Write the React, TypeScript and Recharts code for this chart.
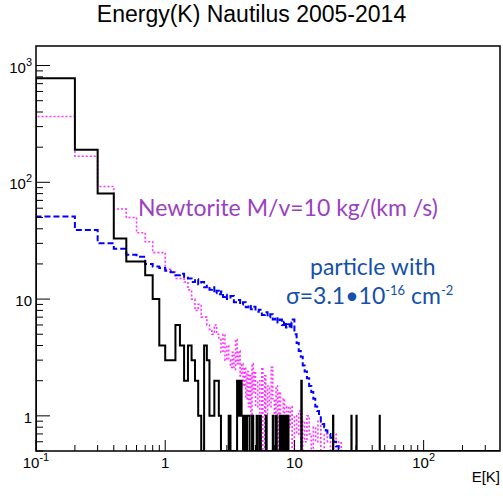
import React from "react";
import { LineChart, Line, XAxis, YAxis, ReferenceArea } from "recharts";

const X_MIN = 0.1;
const X_MAX = 390;
const Y_MIN = 0.5;
const Y_MAX = 1470;

// black solid histogram: bin low edge (K) and entries
const blackE = [
  0.1, 0.2, 0.3, 0.4, 0.5, 0.6, 0.7, 0.8, 0.9, 1.0, 1.1, 1.2, 1.3, 1.4, 1.5, 1.6, 1.7, 1.8, 1.9,
  2.0, 2.1, 2.2, 2.3, 2.4, 2.5, 2.6, 2.7, 3.1, 3.2, 3.6, 3.7, 3.8, 3.9, 4.0, 4.1, 4.2, 4.3, 4.4,
  4.5, 4.7, 4.8, 5.1, 5.2, 5.4, 5.5, 6.0, 6.1, 6.8, 6.9, 7.2, 7.3, 7.7, 7.9, 8.1, 8.2, 8.4, 8.6,
  8.9, 9.0, 11.3, 11.4, 19.9, 20.0, 27.6, 27.7, 30.2, 30.3, 45.7, 45.8,
];
const blackN = [
  780, 190, 80, 33, 21, 21, 16, 10, 4, 3, 3, 6, 4, 2, 4, 3, 2, 1, 0,
  4, 3, 1, 1, 2, 2, 1, 0, 1, 0, 2, 1, 2, 1, 0, 1, 0, 1, 1,
  0, 1, 0, 1, 0, 1, 0, 1, 0, 1, 0, 1, 0, 1, 0, 1, 0, 1, 0,
  1, 0, 2, 0, 1, 0, 1, 0, 1, 0, 1, 0,
];

// magenta dotted: Newtorite M/v=10 kg/(km/s)
const newtE = [
  0.1, 0.2, 0.3, 0.4, 0.5, 0.6, 0.7, 0.8, 0.9, 1.0, 1.1, 1.2, 1.3, 1.4, 1.5, 1.6, 1.7, 1.8, 1.9,
  2.0, 2.1, 2.2, 2.3, 2.4, 2.5, 2.6, 2.7, 2.8, 2.9, 3.0, 3.1, 3.2, 3.3, 3.4, 3.5, 3.6, 3.7, 3.8,
  3.9, 4.0, 4.1, 4.2, 4.3, 4.4, 4.5, 4.6, 4.7, 4.8, 4.9, 5.0, 5.2, 5.4, 5.6, 5.7, 5.9, 6.0, 6.2,
  6.4, 6.6, 6.8, 7.0, 7.2, 7.4, 7.6, 7.8, 8.0, 8.2, 8.4, 8.7, 9.0, 9.3, 9.6, 10, 10.4, 10.8,
  11.2, 11.6, 12, 12.5, 13, 13.5, 14, 14.6, 15.2, 16, 17, 18, 19, 20, 21, 22, 23,
];
const newtN = [
  366, 167, 92, 59, 50, 37, 31, 25, 25, 18, 17, 15, 15, 14, 12, 10, 8, 9, 7,
  7, 6, 5.5, 5, 6, 5, 4.5, 3.5, 5, 3, 4, 3, 2.6, 3.5, 2.5, 4.5, 2.8, 3.6, 2.2,
  2.8, 1.8, 2.6, 1.4, 2.4, 1.2, 2.2, 1.0, 2.8, 1.6, 2.4, 1.2, 2.0, 1.0, 2.6, 0, 2.2, 1.0, 1.8,
  1.2, 2.6, 1.4, 1.0, 1.8, 0, 1.6, 1.0, 0.8, 1.4, 0, 1.2, 0.8, 1.2, 0, 1.0, 0.7, 1.1,
  0, 0.9, 0.6, 1.0, 0.7, 0, 0.8, 0.6, 0.9, 0, 0.7, 0.6, 0, 0.7, 0, 0.6, 0,
];

// blue dashed: particle with sigma=3.1e-16 cm^-2
const partE = [
  0.1, 0.2, 0.3, 0.4, 0.5, 0.6, 0.7, 0.8, 0.9, 1.0, 1.1, 1.2, 1.3, 1.4, 1.5, 1.6, 1.7, 1.8, 1.9,
  2.0, 2.1, 2.2, 2.3, 2.4, 2.5, 2.6, 2.7, 2.8, 2.9, 3.0, 3.2, 3.4, 3.6, 3.8, 4.0, 4.2, 4.4, 4.6,
  4.8, 5.0, 5.3, 5.6, 5.9, 6.2, 6.5, 6.8, 7.1, 7.4, 7.7, 8.0, 8.3, 8.6, 8.9, 9.2, 9.5, 9.7,
  10.0, 10.4, 10.8, 11.2, 11.6, 12.0, 12.5, 13.0, 13.5, 14, 14.5, 15, 15.5, 16, 16.5, 17, 17.5,
  18, 19, 20, 21, 22, 23, 24,
];
const partN = [
  51, 39, 30, 27, 24, 23, 20, 19, 18.5, 17.5, 17, 16, 16.5, 15.2, 15.0, 14.0, 14.8, 13.4, 14.0,
  12.6, 13.0, 12.0, 12.6, 11.2, 11.8, 11.0, 11.6, 10.4, 10.9, 10.0, 10.6, 9.4, 9.8, 9.0, 9.4, 8.5, 8.9, 8.2,
  8.6, 7.8, 8.1, 7.3, 7.7, 7.0, 7.4, 6.7, 7.0, 6.3, 6.7, 6.0, 6.4, 5.7, 6.1, 5.6, 6.3, 6.7,
  5.0, 4.2, 3.6, 3.2, 2.7, 2.4, 2.1, 1.8, 1.6, 1.4, 1.2, 1.1, 1.0, 0.9, 0.85, 0.8, 0.75,
  0.7, 0.65, 0.6, 0.55, 0.52, 0.5, 0,
];

const xMajor = [0.1, 1, 10, 100];
const xMinor = [0.2, 0.3, 0.4, 0.5, 0.6, 0.7, 0.8, 0.9, 2, 3, 4, 5, 6, 7, 8, 9, 20, 30, 40, 50, 60, 70, 80, 90, 200, 300];
const yMajor = [1, 10, 100, 1000];
const yMinor = [0.5, 0.6, 0.7, 0.8, 0.9, 2, 3, 4, 5, 6, 7, 8, 9, 20, 30, 40, 50, 60, 70, 80, 90, 200, 300, 400, 500, 600, 700, 800, 900];

const xLabels: Record<string, [string, string]> = { "0.1": ["10", "-1"], "1": ["1", ""], "10": ["10", ""], "100": ["10", "2"] };
const yLabels: Record<string, [string, string]> = { "1": ["1", ""], "10": ["10", ""], "100": ["10", "2"], "1000": ["10", "3"] };

function toSteps(edges: number[], counts: number[]) {
  const pts = [{ e: edges[0], n: Y_MIN }];
  edges.forEach((e, i) => pts.push({ e, n: Math.max(counts[i], Y_MIN) }));
  pts.push({ e: X_MAX, n: Y_MIN });
  return pts;
}

const FONT = "'Liberation Sans', Arial, sans-serif";
const GILL = "Lato, 'Open Sans', sans-serif";

function XTick(props: any) {
  const { x, y, payload } = props;
  const lab = xLabels[String(payload.value)];
  return (
    <g>
      <line x1={x} x2={x} y1={y} y2={y - (lab ? 11 : 6)} stroke="#000" strokeWidth={1} />
      {lab && (
        <text x={x} y={y + 17} textAnchor="middle" fontSize={15} fontFamily={FONT} fill="#000">
          {lab[0]}
          {lab[1] && <tspan dy={-7} fontSize={11}>{lab[1]}</tspan>}
        </text>
      )}
    </g>
  );
}

function YTick(props: any) {
  const { x, y, payload } = props;
  const lab = yLabels[String(payload.value)];
  return (
    <g>
      <line x1={x} x2={x + (lab ? 14 : 7)} y1={y} y2={y} stroke="#000" strokeWidth={1} />
      {lab && (
        <text x={x - 4} y={y + 7} textAnchor="end" fontSize={15} fontFamily={FONT} fill="#000">
          {lab[0]}
          {lab[1] && <tspan dy={-7} fontSize={11}>{lab[1]}</tspan>}
        </text>
      )}
    </g>
  );
}

export default function App() {
  const black = toSteps(blackE, blackN);
  const newt = toSteps(newtE, newtN);
  const part = toSteps(partE, partN);

  return (
    <div style={{ position: "relative", width: 503, height: 496, fontFamily: FONT, overflow: "hidden" }}>
      <style>{"html, body { margin: 0; padding: 0; overflow: hidden; }"}</style>
      <LineChart width={503} height={496} margin={{ top: 46, right: 3, bottom: 0, left: 0 }}>
        <XAxis
          dataKey="e"
          type="number"
          scale="log"
          domain={[X_MIN, X_MAX]}
          allowDataOverflow
          ticks={[...xMajor, ...xMinor]}
          interval={0}
          tick={<XTick />}
          tickLine={false}
          tickSize={0}
          tickMargin={0}
          axisLine={false}
          height={45}
        />
        <YAxis
          type="number"
          scale="log"
          domain={[Y_MIN, Y_MAX]}
          allowDataOverflow
          ticks={[...yMajor, ...yMinor]}
          interval={0}
          tick={<YTick />}
          tickLine={false}
          tickSize={0}
          tickMargin={0}
          axisLine={false}
          width={36}
        />
        <Line data={newt} dataKey="n" type="stepAfter" stroke="#ff33ff" strokeWidth={1.6} strokeDasharray="2 2" dot={false} isAnimationActive={false} />
        <Line data={part} dataKey="n" type="stepAfter" stroke="#0000ff" strokeWidth={2} strokeDasharray="6 3" dot={false} isAnimationActive={false} />
        <Line data={black} dataKey="n" type="stepAfter" stroke="#000" strokeWidth={2} dot={false} isAnimationActive={false} />
        <ReferenceArea x1={X_MIN} x2={X_MAX} y1={Y_MIN} y2={Y_MAX} fill="none" stroke="#000" strokeWidth={1.5} />
      </LineChart>
      <div style={{ position: "absolute", left: 0, top: 1, width: 503, textAlign: "center", fontSize: 23, whiteSpace: "nowrap" }}>
        Energy(K) Nautilus 2005-2014
      </div>
      <div style={{ position: "absolute", right: 3, top: 468, fontSize: 15 }}>E[K]</div>
      <div style={{ position: "absolute", left: 138, top: 193, fontSize: 23, color: "#9b3fc0", fontFamily: GILL, whiteSpace: "nowrap" }}>
        Newtorite M/v=10 kg/(km /s)
      </div>
      <div style={{ position: "absolute", left: 310, top: 252, fontSize: 23, color: "#1450aa", fontFamily: GILL, whiteSpace: "nowrap" }}>
        particle with
      </div>
      <div style={{ position: "absolute", left: 286, top: 281, fontSize: 23, color: "#1450aa", fontFamily: GILL, whiteSpace: "nowrap" }}>
        σ=3.1•10<sup style={{ fontSize: 13 }}>-16</sup> cm<sup style={{ fontSize: 13 }}>-2</sup>
      </div>
    </div>
  );
}
